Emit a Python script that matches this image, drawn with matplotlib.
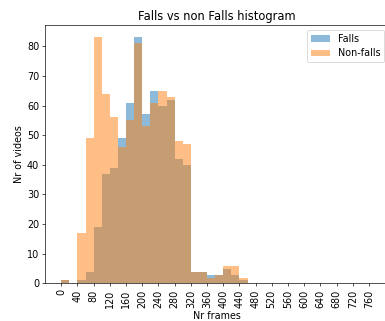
import matplotlib
matplotlib.use("Agg")
import matplotlib.pyplot as plt
import numpy as np

# frame-count bins, 20 frames wide
bin_edges = list(range(0, 480, 20))

# number of videos per bin
falls = [1, 0, 1, 4, 19, 37, 39, 49, 61, 83, 57, 65, 60, 62, 42, 40, 4, 4, 3, 3, 5, 3, 1]
non_falls = [1, 0, 17, 49, 83, 64, 56, 46, 55, 81, 53, 61, 65, 63, 48, 47, 4, 4, 2, 3, 6, 6, 2]

x_ticks = list(range(0, 800, 40))

plt.rcParams['font.size'] = 11.5
plt.rcParams['axes.titlesize'] = 13.8


def histogram(falls, non_falls):
	"""
	Plots the distribution of video lengths for falls and non falls
	"""
	fig = plt.figure(figsize=(385 / 60, 321 / 60), dpi=60)
	ax = fig.add_axes([0.117, 0.117, 0.894, 0.805])

	left = np.array(bin_edges[:-1])
	ax.hist(left, bins=bin_edges, weights=falls, alpha=0.5, label='Falls')
	ax.hist(left, bins=bin_edges, weights=non_falls, alpha=0.5, label='Non-falls')

	ax.set_xticks(x_ticks)
	ax.set_xticklabels([str(t) for t in x_ticks], rotation=90)
	ax.set_xlim(-40, 810)

	plt.title('Falls vs non Falls histogram')
	plt.xlabel('Nr frames')
	plt.ylabel('Nr of videos')
	plt.legend(loc='upper right')

	plt.savefig("out.png", dpi=60)
	plt.close()


histogram(falls, non_falls)
